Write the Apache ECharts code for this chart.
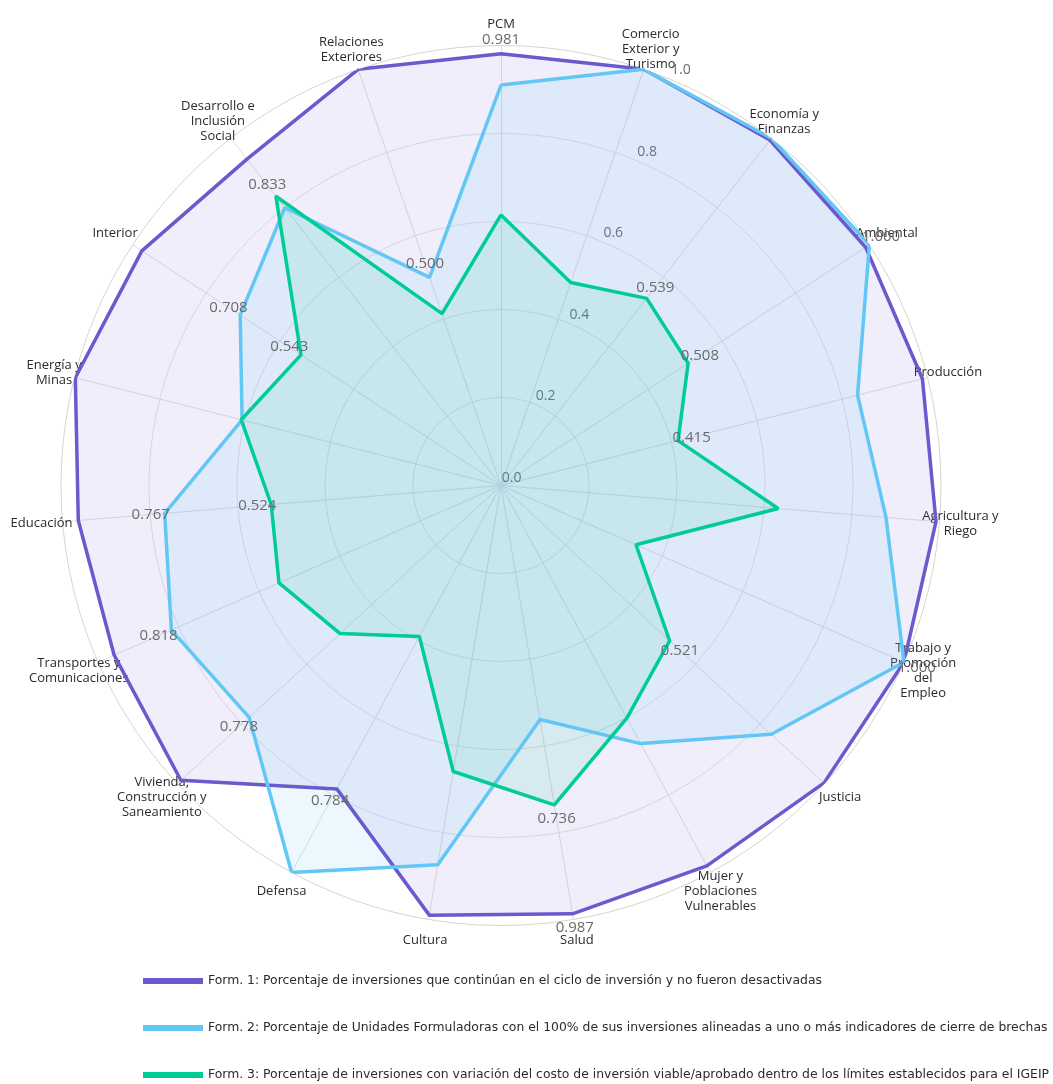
<!DOCTYPE html>
<html>
<head>
<meta charset="utf-8">
<script src="https://cdn.jsdelivr.net/npm/echarts@6/dist/echarts.min.js"></script>
<style>
html,body{margin:0;padding:0;background:#ffffff;}
#chart{width:1053px;height:1084px;}
</style>
</head>
<body>
<div id="chart"></div>
<script>
// ---- data ----
const categories = [
  'PCM',
  'Comercio\nExterior y\nTurismo',
  'Economía y\nFinanzas',
  'Ambiental',
  'Producción',
  'Agricultura y\nRiego',
  'Trabajo y\nPromoción\ndel\nEmpleo',
  'Justicia',
  'Mujer y\nPoblaciones\nVulnerables',
  'Salud',
  'Cultura',
  'Defensa',
  'Vivienda,\nConstrucción y\nSaneamiento',
  'Transportes y\nComunicaciones',
  'Educación',
  'Energía y\nMinas',
  'Interior',
  'Desarrollo e\nInclusión\nSocial',
  'Relaciones\nExteriores'
];
const seriesNames = [
  'Form. 1: Porcentaje de inversiones que continúan en el ciclo de inversión y no fueron desactivadas',
  'Form. 2: Porcentaje de Unidades Formuladoras con el 100% de sus inversiones alineadas a uno o más indicadores de cierre de brechas',
  'Form. 3: Porcentaje de inversiones con variación del costo de inversión viable/aprobado dentro de los límites establecidos para el IGEIP'
];
const form1 = [0.981, 1.000, 0.995, 0.990, 0.988, 0.992, 1.000, 0.998, 0.983, 0.987, 0.990, 0.784, 0.989, 0.960, 0.964, 0.998, 0.975, 0.940, 1.000];
const form2 = [0.910, 1.000, 1.000, 1.000, 0.836, 0.878, 1.000, 0.835, 0.667, 0.539, 0.874, 1.000, 0.778, 0.818, 0.767, 0.607, 0.708, 0.800, 0.500];
const form3 = [0.615, 0.488, 0.539, 0.508, 0.415, 0.632, 0.335, 0.521, 0.601, 0.736, 0.659, 0.390, 0.497, 0.551, 0.524, 0.609, 0.543, 0.833, 0.413];
const labeled1 = [0, 9, 11];
const labeled2 = [3, 6, 12, 13, 14, 16, 18];
const labeled3 = [2, 3, 4, 7, 9, 14, 16, 17];
const radialMax = 1.0;
const radialStep = 0.2;

// ---- styles ----
const FONT = "'Open Sans', 'Noto Sans', sans-serif";
const colors = ['#6a5acd', '#63c7f5', '#00cc96'];
const fills = ['rgba(106,90,205,0.10)', 'rgba(99,199,245,0.12)', 'rgba(0,204,150,0.10)'];
const CENTER = [501, 485.5];
const RADIUS = 440;
const LABEL_DIST = 14;

const n = categories.length;

function buildData(vals, labeled) {
  const pts = vals.map(function (v, i) {
    const a = i * 2 * Math.PI / n;
    const item = { value: [v, i] };
    if (labeled.indexOf(i) >= 0) {
      item.label = { show: true, offset: [LABEL_DIST * Math.sin(a), -LABEL_DIST * Math.cos(a)] };
    }
    return item;
  });
  pts.push({ value: [vals[0], n] });
  return pts;
}

// radar goes counter-clockwise: reorder names so they appear clockwise
const radarIndicators = [];
for (let k = 0; k < n; k++) {
  const i = (n - k) % n;
  radarIndicators.push({ name: categories[i], min: 0, max: radialMax });
}

const allVals = [form1, form2, form3];
const allLabeled = [labeled1, labeled2, labeled3];

const series = allVals.map(function (vals, s) {
  return {
    type: 'line',
    name: seriesNames[s],
    coordinateSystem: 'polar',
    polarIndex: 0,
    data: buildData(vals, allLabeled[s]),
    symbol: 'circle',
    symbolSize: 2,
    showSymbol: true,
    clip: false,
    color: colors[s],
    itemStyle: { color: colors[s] },
    lineStyle: { color: colors[s], width: 3.5 },
    areaStyle: { color: fills[s], opacity: 1 },
    label: {
      show: false,
      position: 'inside',
      color: '#6b6b6b',
      fontSize: 15,
      fontFamily: FONT,
      formatter: function (p) { return p.value[0].toFixed(3); }
    },
    emphasis: { disabled: true },
    silent: true
  };
});

const chart = echarts.init(document.getElementById('chart'), null, { renderer: 'canvas' });
chart.setOption({
  animation: false,
  backgroundColor: '#ffffff',
  radar: {
    center: CENTER,
    radius: RADIUS,
    startAngle: 90,
    shape: 'circle',
    splitNumber: 5,
    indicator: radarIndicators,
    axisNameGap: 21,
    axisName: {
      color: '#2b2b2b',
      fontSize: 13,
      fontFamily: FONT,
      lineHeight: 15,
      align: 'center',
      verticalAlign: 'middle'
    },
    axisLine: { lineStyle: { color: '#e0e0e0', width: 1 } },
    axisTick: { show: false },
    axisLabel: { show: false },
    splitLine: { lineStyle: { color: ['#e4e4e4', '#e4e4e4', '#e4e4e4', '#e4e4e4', '#e4e4e4', '#d6d6cc'], width: 1 } },
    splitArea: { show: false }
  },
  polar: [
    { center: CENTER, radius: RADIUS },
    { center: [511.7, 477.7], radius: 441 }
  ],
  angleAxis: [
    { polarIndex: 0, type: 'value', min: 0, max: n, interval: 1, startAngle: 90, clockwise: true,
      axisLine: { show: false }, axisTick: { show: false }, axisLabel: { show: false }, splitLine: { show: false } },
    { polarIndex: 1, type: 'value', min: 0, max: 1, startAngle: 67.43, clockwise: true,
      axisLine: { show: false }, axisTick: { show: false }, axisLabel: { show: false }, splitLine: { show: false } }
  ],
  radiusAxis: [
    { polarIndex: 0, type: 'value', min: 0, max: radialMax,
      axisLine: { show: false }, axisTick: { show: false }, axisLabel: { show: false }, splitLine: { show: false } },
    { polarIndex: 1, type: 'value', min: 0, max: radialMax, interval: radialStep,
      axisLine: { show: false }, axisTick: { show: false }, splitLine: { show: false },
      axisLabel: { show: true, margin: 0, align: 'center', verticalAlign: 'middle', color: '#6b6b6b', fontSize: 14, fontFamily: FONT,
        formatter: function (v) { return v.toFixed(1); } } }
  ],
  legend: {
    orient: 'vertical',
    left: 143,
    top: 975,
    padding: 0,
    itemWidth: 60,
    itemHeight: 6,
    itemGap: 35,
    icon: 'rect',
    data: seriesNames,
    textStyle: { fontSize: 12.4, color: '#2b2b2b', fontFamily: "'DejaVu Sans', sans-serif" }
  },
  series: series
});
</script>
</body>
</html>
